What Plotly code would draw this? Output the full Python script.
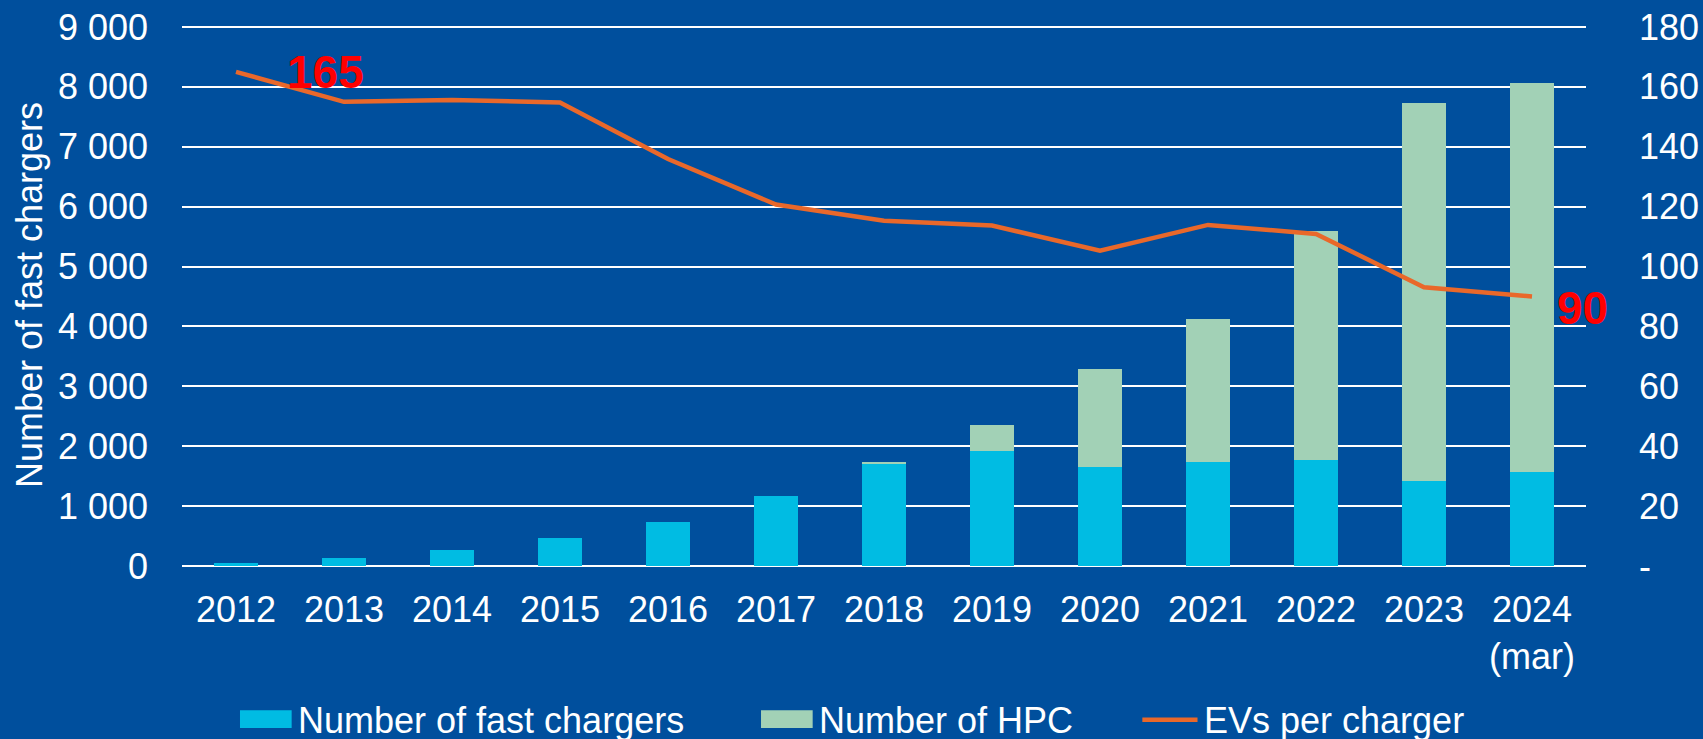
import plotly.graph_objects as go

categories = ["2012", "2013", "2014", "2015", "2016", "2017", "2018", "2019",
              "2020", "2021", "2022", "2023", "2024<br>(mar)"]
fast_chargers = [55, 130, 265, 460, 730, 1170, 1705, 1915, 1655, 1740, 1765, 1415, 1565]
hpc = [0, 0, 0, 0, 0, 0, 18, 445, 1630, 2390, 3835, 6315, 6495]
evs_per_charger = [165, 155, 155.6, 154.8, 135.9, 120.7, 115.3, 113.7, 105.3, 113.9, 110.9, 93.1, 90]

left_tickvals = [0, 1000, 2000, 3000, 4000, 5000, 6000, 7000, 8000, 9000]
right_tickvals = [0, 20, 40, 60, 80, 100, 120, 140, 160, 180]
right_ticktext = ["-", "20", "40", "60", "80", "100", "120", "140", "160", "180"]

legend_names = ["Number of fast chargers", "Number of HPC", "EVs per charger"]

BG = "#004F9D"
C_FAST = "#00BCE3"
C_HPC = "#A2D1B6"
C_LINE = "#E9682A"
FONT = "Liberation Sans, Arial, sans-serif"

# small headroom so the top (9 000) gridline is drawn
Y_MAX = 9050
Y2_MAX = Y_MAX / 9000 * 180

fig = go.Figure()
fig.add_trace(go.Bar(x=categories, y=fast_chargers, name=legend_names[0],
                     marker=dict(color=C_FAST, line=dict(width=0))))
fig.add_trace(go.Bar(x=categories, y=hpc, name=legend_names[1],
                     marker=dict(color=C_HPC, line=dict(width=0))))
fig.add_trace(go.Scatter(x=categories, y=evs_per_charger, name=legend_names[2],
                         mode="lines", yaxis="y2",
                         line=dict(color=C_LINE, width=4.5)))

# data labels for first and last line points (category index positions)
first_i, last_i = 0, len(categories) - 1
fig.add_annotation(x=first_i, y=evs_per_charger[first_i], yref="y2",
                   text="<b>%d</b>" % round(evs_per_charger[first_i]), showarrow=False,
                   xanchor="left", yanchor="middle", xshift=49, yshift=0,
                   font=dict(family=FONT, size=46, color="#FF0000"))
fig.add_annotation(x=last_i, y=evs_per_charger[last_i], yref="y2",
                   text="<b>%d</b>" % round(evs_per_charger[last_i]), showarrow=False,
                   xanchor="left", yanchor="middle", xshift=23, yshift=-11,
                   font=dict(family=FONT, size=46, color="#FF0000"))

# custom legend (wide swatches as in the original)
leg_y = -0.285
fig.add_shape(type="rect", xref="paper", yref="paper", x0=0.0413, x1=0.0781,
              y0=-0.299, y1=-0.266, fillcolor=C_FAST, line=dict(width=0))
fig.add_shape(type="rect", xref="paper", yref="paper", x0=0.4124, x1=0.4492,
              y0=-0.299, y1=-0.266, fillcolor=C_HPC, line=dict(width=0))
fig.add_shape(type="line", xref="paper", yref="paper", x0=0.684, x1=0.7233,
              y0=-0.2835, y1=-0.2835, line=dict(color=C_LINE, width=4.5))
for xpos, name in zip([0.0815, 0.4525, 0.7262], legend_names):
    fig.add_annotation(xref="paper", yref="paper", x=xpos, y=leg_y, text=name,
                       showarrow=False, xanchor="left", yanchor="middle",
                       font=dict(family=FONT, size=36, color="white"))

fig.update_layout(
    width=1703, height=739,
    paper_bgcolor=BG, plot_bgcolor=BG,
    margin=dict(l=182, r=117, t=24, b=173, autoexpand=False),
    barmode="stack", bargap=0.6,
    showlegend=False,
    separators=". ",
    font=dict(family=FONT, size=36, color="white"),
    xaxis=dict(type="category", range=[-0.5, len(categories) - 0.5], autorange=False,
               automargin=False,
               showgrid=False, zeroline=False, showline=False,
               ticks="", ticklabelstandoff=19,
               tickfont=dict(family=FONT, size=36, color="white")),
    yaxis=dict(range=[0, Y_MAX], autorange=False, automargin=False,
               tickvals=left_tickvals, separatethousands=True,
               showgrid=True, gridcolor="white", gridwidth=1.6,
               zeroline=True, zerolinecolor="white", zerolinewidth=1.6,
               showline=False, ticks="", ticklabelstandoff=33,
               title=dict(text="Number of fast chargers", standoff=4,
                          font=dict(family=FONT, size=36, color="white")),
               tickfont=dict(family=FONT, size=36, color="white")),
    yaxis2=dict(range=[0, Y2_MAX], autorange=False, automargin=False,
                overlaying="y", side="right",
                tickvals=right_tickvals, ticktext=right_ticktext,
                showgrid=False, zeroline=False, showline=False, ticks="",
                ticklabelstandoff=52,
                tickfont=dict(family=FONT, size=36, color="white")),
)

fig.write_html("out.html", config={"displayModeBar": False},
               post_script="document.body.style.margin='0';document.body.style.background='%s';" % BG)
